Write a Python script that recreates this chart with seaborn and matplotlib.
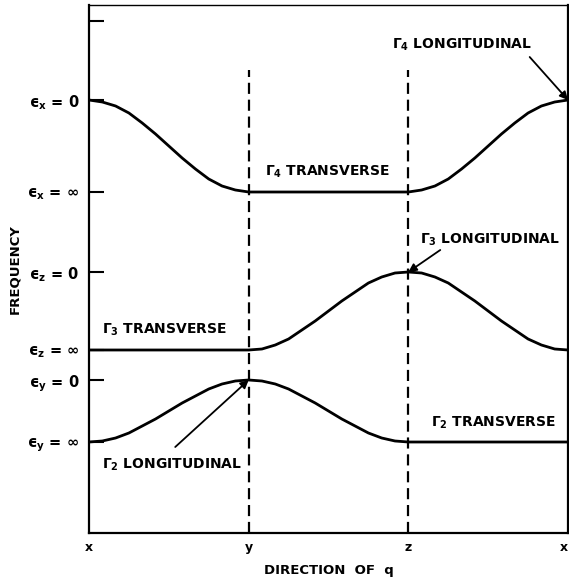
import numpy as np
import pandas as pd
import matplotlib
matplotlib.use("Agg")
import matplotlib.pyplot as plt
import seaborn as sns

# Path through the zone: x -> y -> z -> x, sampled every 1/12 of a leg
path_pos = np.arange(37) / 12.0
path_ticks = [0, 1, 2, 3]
path_labels = ["x", "y", "z", "x"]

# Frequency levels on the vertical axis
level_pos = [0.91, 1.53, 1.83, 2.61, 3.41, 4.33, 5.12]
level_labels = ["\u03f5$_y$ = \u221e", "\u03f5$_y$ = 0",
                "\u03f5$_z$ = \u221e", "\u03f5$_z$ = 0",
                "\u03f5$_x$ = \u221e", "\u03f5$_x$ = 0", ""]

# Branch frequencies along the path
gamma4 = [4.33, 4.31, 4.27, 4.20, 4.10, 3.99, 3.87, 3.75, 3.64, 3.54, 3.47, 3.43, 3.41,
          3.41, 3.41, 3.41, 3.41, 3.41, 3.41, 3.41, 3.41, 3.41, 3.41, 3.41, 3.41,
          3.43, 3.47, 3.54, 3.64, 3.75, 3.87, 3.99, 4.10, 4.20, 4.27, 4.31, 4.33]
gamma3 = [1.83, 1.83, 1.83, 1.83, 1.83, 1.83, 1.83, 1.83, 1.83, 1.83, 1.83, 1.83, 1.83,
          1.84, 1.88, 1.94, 2.03, 2.12, 2.22, 2.32, 2.41, 2.50, 2.56, 2.60, 2.61,
          2.60, 2.56, 2.50, 2.41, 2.32, 2.22, 2.12, 2.03, 1.94, 1.88, 1.84, 1.83]
gamma2 = [0.91, 0.92, 0.95, 1.00, 1.07, 1.14, 1.22, 1.30, 1.37, 1.44, 1.49, 1.52, 1.53,
          1.52, 1.49, 1.44, 1.37, 1.30, 1.22, 1.14, 1.07, 1.00, 0.95, 0.92, 0.91,
          0.91, 0.91, 0.91, 0.91, 0.91, 0.91, 0.91, 0.91, 0.91, 0.91, 0.91, 0.91]

branches = pd.DataFrame({
    "q": np.tile(path_pos, 3),
    "freq": gamma4 + gamma3 + gamma2,
    "branch": ["G4"] * 37 + ["G3"] * 37 + ["G2"] * 37,
})

sns.set_style("white")
plt.rcParams["font.family"] = ["DejaVu Sans"]
plt.rcParams["font.weight"] = "bold"
plt.rcParams["mathtext.fontset"] = "dejavusans"
plt.rcParams["mathtext.default"] = "bf"
plt.rcParams["text.color"] = "black"
plt.rcParams["axes.labelcolor"] = "black"
plt.rcParams["xtick.color"] = "black"
plt.rcParams["ytick.color"] = "black"

fig = plt.figure(figsize=(5.69, 5.79), dpi=100)
ax = fig.add_axes([89 / 569, 1 - 533 / 579, 479 / 569, 528 / 579])

sns.lineplot(data=branches, x="q", y="freq", units="branch", estimator=None,
             color="black", lw=2.0, ax=ax, legend=False, sort=False)

# Symmetry points y and z
for xv in (1, 2):
    ax.plot([xv, xv], [0, 4.63], color="black", lw=1.6,
            linestyle=(0, (5, 2.6)))

ax.set_xlim(0, 3)
ax.set_ylim(0, 5.28)
ax.set_xticks(path_ticks)
ax.set_xticklabels(path_labels, fontsize=9, fontweight="bold")
ax.get_xticklabels()[-1].set_horizontalalignment("right")
ax.set_yticks(level_pos)
ax.set_yticklabels(level_labels, fontsize=10.5, fontweight="bold")
ax.tick_params(axis="y", direction="in", length=11, width=1.5, pad=7, left=True)
ax.tick_params(axis="x", length=0, pad=6)
for side in ("left", "bottom", "right"):
    ax.spines[side].set_linewidth(1.6)
ax.spines["top"].set_linewidth(1.0)
for sp in ax.spines.values():
    sp.set_color("black")

ax.set_xlabel("DIRECTION  OF  q", fontsize=9.5, fontweight="bold", labelpad=7)
ax.set_ylabel("FREQUENCY", fontsize=9.5, fontweight="bold", labelpad=4)

txt = dict(fontsize=10, fontweight="bold", ha="left", va="center")
ax.text(1.90, 4.88, r"$\Gamma_4$ LONGITUDINAL", **txt)
ax.text(1.10, 3.61, r"$\Gamma_4$ TRANSVERSE", **txt)
ax.text(2.07, 2.93, r"$\Gamma_3$ LONGITUDINAL", **txt)
ax.text(0.08, 2.03, r"$\Gamma_3$ TRANSVERSE", **txt)
ax.text(2.14, 1.10, r"$\Gamma_2$ TRANSVERSE", **txt)
ax.text(0.08, 0.68, r"$\Gamma_2$ LONGITUDINAL", **txt)

arrow = dict(arrowstyle="-|>", color="black", lw=1.3, mutation_scale=12,
             shrinkA=0, shrinkB=0)
ax.annotate("", xy=(path_pos[-1], gamma4[-1]), xytext=(2.76, 4.76), arrowprops=arrow)
ax.annotate("", xy=(path_pos[24], gamma3[24]), xytext=(2.20, 2.83), arrowprops=arrow)
ax.annotate("", xy=(path_pos[12], gamma2[12]), xytext=(0.54, 0.86), arrowprops=arrow)

fig.savefig("out.png", dpi=100)
